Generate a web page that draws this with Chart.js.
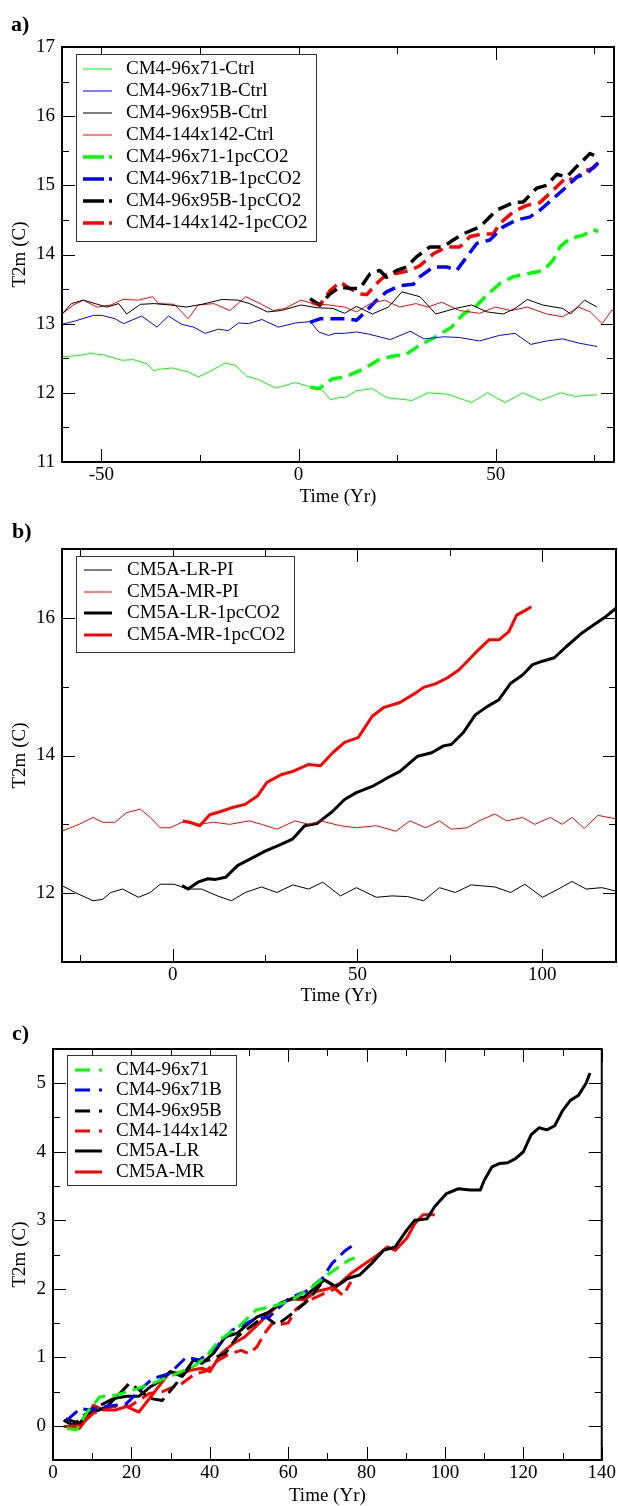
<!DOCTYPE html>
<html>
<head>
<meta charset="utf-8">
<script src="https://cdn.jsdelivr.net/npm/chart.js@4.4.1/dist/chart.umd.min.js"></script>
<style>
  body { margin: 0; background: #fff; }
  #wrap { position: relative; width: 618px; height: 1506px; }
  canvas { position: absolute; left: 0; }
</style>
</head>
<body>
<div id="wrap">
  <canvas id="chartA" width="618" height="507" style="top:0"></canvas>
  <canvas id="chartB" width="618" height="499" style="top:507px"></canvas>
  <canvas id="chartC" width="618" height="500" style="top:1006px"></canvas>
</div>
<script>
// ---- panel a: CM4 control runs (thin) and 1pcCO2 runs (dashed) ----
const aGreenCtrlT = [-60,-55.7,-52.8,-49.6,-44.8,-41.9,-38.5,-36.7,-35.5,-32.1,-27.9,-25.4,-22.8,-18.6,-16.1,-13.1,-10.1,-5.9,-4.3,-0.8,2.6,6,8.1,10.2,11.7,14.7,18.7,22.3,28.8,32.8,37.8,43.9,47.9,52.4,56.9,61.4,66.5,70,75.7];
const aGreenCtrlV = [12.52,12.54,12.57,12.55,12.47,12.48,12.42,12.32,12.34,12.36,12.30,12.23,12.30,12.43,12.40,12.24,12.19,12.07,12.09,12.15,12.09,12.04,11.90,11.93,11.93,12.03,12.06,11.93,11.89,12.00,11.98,11.86,12.00,11.86,12.00,11.89,12.00,11.95,11.97];
const aBlueCtrlT = [-60,-56.6,-52,-49.9,-46.5,-44.4,-39.8,-35.9,-33,-29.6,-26.6,-23.7,-20.3,-17.8,-15.2,-12.7,-9.3,-5.1,-0.8,3,5.1,7.6,9.3,11.7,14.7,17.7,23.3,28.3,31.8,36.8,40.8,45.9,50.9,54.9,58.9,62.9,67,71,75.7];
const aBlueCtrlV = [12.99,13.04,13.12,13.12,13.07,13.00,13.11,12.95,13.11,12.99,12.95,12.86,12.92,12.90,13.01,13.00,13.06,12.95,13.01,13.03,12.88,12.83,12.86,12.86,12.88,12.85,12.77,12.89,12.78,12.81,12.80,12.75,12.83,12.86,12.70,12.75,12.78,12.72,12.67];
const aBlackCtrlT = [-60,-57.6,-54.6,-51.6,-48.6,-45.6,-43.6,-40.1,-36.6,-32.5,-28.5,-24.5,-19.4,-15.4,-12.4,-7.9,-4.4,0.6,4.7,8.7,11.7,14.7,18.7,22.8,26.2,30.8,34.8,39.8,43.9,47.8,51.9,54.9,58,61.9,67,69,72.5,75.7];
const aBlackCtrlV = [13.14,13.29,13.34,13.29,13.24,13.29,13.14,13.28,13.29,13.27,13.24,13.28,13.35,13.34,13.29,13.17,13.19,13.27,13.23,13.22,13.15,13.25,13.14,13.24,13.46,13.39,13.14,13.22,13.27,13.17,13.14,13.22,13.35,13.27,13.22,13.14,13.34,13.24];
const aRedCtrlT = [-60,-57.1,-54.6,-51.1,-47.6,-44.6,-40.6,-37,-35.5,-31.5,-28,-25.5,-21.5,-17.4,-13.4,-9.4,-6.4,-3.4,0.6,3.7,7.7,11.7,14.7,18.2,21.8,25.7,29.8,32.8,36.3,40.8,45.9,49.9,53.9,58,62.9,67,71,74,77,79.5,80];
const aRedCtrlV = [13.14,13.27,13.34,13.24,13.27,13.35,13.34,13.39,13.29,13.28,13.07,13.27,13.29,13.19,13.39,13.28,13.19,13.22,13.34,13.29,13.27,13.24,13.17,13.29,13.34,13.24,13.29,13.24,13.31,13.19,13.15,13.24,13.19,13.24,13.14,13.10,13.24,13.17,13.00,13.20,13.17];
const aGreenCO2T = [3,5.1,8.5,11.7,16.7,20.7,24.8,26.8,30.8,34.8,38.8,41.8,44.8,47.7,51.1,54.5,57.9,62.1,64.6,66.3,68.8,72.2,74.8,76];
const aGreenCO2V = [12.08,12.06,12.20,12.23,12.35,12.49,12.54,12.54,12.69,12.81,12.95,13.14,13.24,13.41,13.58,13.68,13.72,13.77,13.92,14.11,14.23,14.28,14.36,14.33];
const aBlueCO2T = [2.9,5.4,8.8,12.2,14.7,17.3,19.8,22.3,25.7,29.1,30.8,34.2,37.6,40.1,42.7,45.2,48.5,51.9,55.3,58.6,61.2,64.6,68,70.5,73.1,76.2];
const aBlueCO2V = [13.02,13.07,13.07,13.07,13.05,13.19,13.34,13.46,13.55,13.57,13.68,13.82,13.82,13.77,13.97,14.16,14.21,14.40,14.50,14.54,14.64,14.81,14.98,15.12,15.17,15.34];
const aBlackCO2T = [2.9,5.4,8,10.5,13,15.6,18.1,20.6,22.3,24.9,27.4,30,33.3,36.7,39.2,41.8,46,50.2,54.5,57,60.4,62.9,65.5,68,70.5,73.9,75.6];
const aBlackCO2V = [13.36,13.27,13.43,13.53,13.51,13.51,13.72,13.77,13.67,13.77,13.82,13.97,14.11,14.11,14.21,14.30,14.40,14.64,14.75,14.76,14.96,15.00,15.16,15.12,15.27,15.46,15.42];
const aRedCO2T = [3.3,5.4,8,10.5,13,15.6,17.3,19.8,22.3,24.9,28.3,30.8,34.2,37.6,40.9,43.5,46,49.4,51.1,54.5,57.9,61.2,64.6,68,69.7,72.2,74.8,76];
const aRedCO2V = [13.31,13.27,13.48,13.60,13.51,13.43,13.42,13.58,13.71,13.73,13.77,13.84,14.01,14.11,14.11,14.26,14.29,14.30,14.45,14.62,14.71,14.75,14.93,15.12,15.07,15.20,15.25,15.32];

// ---- panel b: CM5A PI (thin) and 1pcCO2 (thick) ----
const bLRPIT = [-30,-26.5,-21.6,-19,-16.8,-13.6,-9.3,-6.1,-3.4,0.3,4.1,7.8,12.1,15.9,19.6,24,28.2,32.5,36.8,40.6,45.4,49.7,55.1,59.3,63.6,67.9,72.2,76.5,80.8,87.2,91.5,95.3,100.1,104.4,108.1,111.9,116.2,120];
const bLRPIV = [12.11,12.01,11.89,11.91,12.01,12.06,11.94,12.01,12.13,12.13,12.06,12.06,11.96,11.89,12.01,12.09,12.01,12.12,12.06,12.16,11.96,12.08,11.94,11.96,11.95,11.89,12.08,12.01,12.12,12.09,12.01,12.13,11.94,12.06,12.17,12.06,12.08,12.03];
const bMRPIT = [-30,-25.4,-21.6,-19,-15.7,-12.5,-8.8,-6.1,-3.4,-0.7,2.5,6.8,11.1,15.4,20.7,24,28.2,33.1,36.8,40,45.4,49.7,55.1,60.4,64.2,68.5,72.2,75.4,79.7,82.9,87.2,90.4,94.7,98,102.2,105.4,108.1,111.4,115.1,120];
const bMRPIV = [12.90,13.00,13.10,13.03,13.03,13.17,13.22,13.10,12.95,12.95,13.03,13.00,13.03,13.00,13.05,13.00,12.93,13.05,13.00,13.05,12.98,12.95,12.98,12.90,13.05,12.95,13.05,12.93,12.95,13.05,13.15,13.05,13.10,13.00,13.10,13.00,13.10,12.94,13.13,13.08];
const bLRCO2T = [2.5,4.1,6.8,9.5,11.6,14.3,17.5,21.8,25,29.3,32.5,35.7,39,43.3,46.5,49.7,54,58.3,61.5,66.3,70.1,73.3,75.4,78.6,81.9,85.1,88.3,91.5,94.7,97.4,100.1,103.3,106.5,110.8,114,117.3,120];
const bLRCO2V = [12.11,12.06,12.16,12.21,12.20,12.23,12.40,12.52,12.61,12.71,12.79,12.98,13.01,13.19,13.36,13.46,13.55,13.68,13.77,13.99,14.04,14.14,14.16,14.33,14.59,14.71,14.81,15.05,15.17,15.32,15.37,15.42,15.58,15.78,15.90,16.02,16.14];
const bMRCO2T = [2.7,4.6,7.3,10,13.2,15.9,19.6,22.9,25.5,29.3,32.5,36.8,40,43.3,46.5,50.2,54,57.2,61.5,65.8,67.9,71.1,74.4,77.6,81.9,85.6,88.3,91,93.1,95.8,97.1];
const bMRCO2V = [13.05,13.03,12.98,13.14,13.19,13.24,13.29,13.41,13.61,13.72,13.77,13.87,13.85,14.04,14.19,14.26,14.57,14.70,14.77,14.91,14.99,15.04,15.13,15.25,15.49,15.68,15.68,15.80,16.04,16.12,16.16];

// ---- panel c: warming relative to start ----
const cGreenT = [3.5,6,8.5,11.9,16.2,20.4,25.5,30.6,35.7,39,42.4,47.5,51.8,56,61.1,66.2,70.4,75.5,77];
const cGreenV = [-0.04,-0.06,0.18,0.42,0.45,0.52,0.62,0.74,0.86,1.0,1.25,1.45,1.69,1.74,1.84,2.03,2.22,2.42,2.45];
const cBlueT = [3.5,6.9,9.4,13.6,18.7,22.1,25.5,29.7,34,37.4,41.6,45.8,50.9,55.2,60.2,64.5,68.7,71.2,74.6,77.2];
const cBlueV = [0.08,0.25,0.23,0.28,0.32,0.52,0.69,0.76,1.0,0.96,1.15,1.40,1.54,1.59,1.86,1.96,2.15,2.37,2.56,2.66];
const cBlackDT = [3.2,6,9.4,12.8,16.2,19.5,22.1,24.6,27.9,31.5,35.7,39.9,44,47,50.5,54,57.1,61.1,65.2,69.2,71.2];
const cBlackDV = [0.10,0.05,0.23,0.32,0.42,0.62,0.52,0.40,0.37,0.62,0.91,0.96,1.06,1.30,1.45,1.6,1.47,1.64,1.84,2.13,2.06];
const cRedDT = [3.5,6.9,10.2,15.2,19.5,24.6,28,30,33,36,39,42,45,48,50,52,54,56,58,60,62,64,66,68,70,72,74,76];
const cRedDV = [-0.01,0,0.18,0.28,0.28,0.47,0.5,0.55,0.62,0.75,0.8,0.95,1.05,1.1,1.05,1.15,1.35,1.5,1.48,1.5,1.7,1.78,1.85,1.9,1.95,2.0,1.9,2.1];
const cLRT = [2.7,4.7,6.7,8.8,11.8,13.8,15.8,18.8,21.9,24.9,26.9,29.9,32.9,35.9,38,41,44,47,49,52.1,55.1,58.1,61.1,64.1,67.2,69.2,72.2,75.2,78.2,81.3,84.3,87.3,90.3,92.3,95.4,97.4,100.4,103.4,106.5,109,110,112,114,116,118,120,122,124,126,128,130,132,134,136,137];
const cLRV = [0.08,0.02,0.03,0.18,0.23,0.28,0.40,0.43,0.43,0.57,0.64,0.79,0.72,0.96,0.91,1.06,1.30,1.35,1.45,1.59,1.66,1.79,1.86,1.88,2.03,2.13,2.03,2.15,2.20,2.37,2.56,2.61,2.86,3.0,3.02,3.20,3.39,3.46,3.44,3.44,3.58,3.78,3.83,3.84,3.9,4.0,4.25,4.35,4.32,4.38,4.6,4.75,4.82,5.0,5.15];
const cMRT = [2.7,5.7,6.7,8.3,10.3,12.8,15.8,18.8,21.9,24.9,27.9,29.9,32.9,35,38,40,43,46,49,52.1,55.1,58.1,61.1,64.1,67.2,70.2,73.2,76.2,79.2,82.3,85.3,87.3,90.3,92.3,94.4,97.4];
const cMRV = [-0.01,-0.01,-0.04,0.08,0.30,0.23,0.23,0.28,0.20,0.42,0.64,0.79,0.76,0.81,0.84,0.79,1.06,1.20,1.30,1.47,1.64,1.79,1.85,1.84,1.96,2.0,2.08,2.23,2.35,2.47,2.61,2.56,2.74,2.95,3.08,3.08];

const FONT = '"Liberation Serif", "Times New Roman", serif';
const DASH = [14, 7];

function line(label, t, v, color, width, dash) {
  return {
    label: label,
    data: t.map((x, i) => ({ x: x, y: v[i] })),
    borderColor: color,
    borderWidth: width,
    borderDash: dash || [],
    borderJoinStyle: 'round',
    pointRadius: 0,
    tension: 0,
    fill: false
  };
}

function eachTick(scale, major, minor, fn) {
  const start = Math.ceil(scale.min / minor - 1e-9) * minor;
  for (let v = start; v <= scale.max + 1e-9; v += minor) {
    const r = v / major;
    fn(v, Math.abs(r - Math.round(r)) < 1e-6);
  }
}

// labels only at whole multiples of the step, not at the axis ends
function multiplesOf(step) {
  return s => {
    const out = [];
    for (let v = Math.ceil(s.min / step - 1e-9) * step; v <= s.max + 1e-9; v += step) {
      out.push({ value: Math.round(v * 1e6) / 1e6 });
    }
    s.ticks = out;
  };
}

// box frame with inward ticks, in-plot legend box and panel letter
const panelFrame = {
  id: 'panelFrame',
  afterDatasetsDraw(chart, args, o) {
    const ctx = chart.ctx, a = chart.chartArea;
    const xs = chart.scales.x, ys = chart.scales.y;
    ctx.save();
    ctx.strokeStyle = '#000';
    ctx.lineWidth = 1;
    ctx.setLineDash([]);
    ctx.beginPath();
    eachTick(xs, o.xMajor, o.xMinor, (v, major) => {
      const px = Math.round(xs.getPixelForValue(v)) + 0.5;
      const len = major ? 13 : 7;
      ctx.moveTo(px, a.bottom); ctx.lineTo(px, a.bottom - len);
      ctx.moveTo(px, a.top); ctx.lineTo(px, a.top + len);
    });
    eachTick(ys, o.yMajor, o.yMinor, (v, major) => {
      const py = Math.round(ys.getPixelForValue(v)) + 0.5;
      const len = major ? 13 : 7;
      ctx.moveTo(a.left, py); ctx.lineTo(a.left + len, py);
      ctx.moveTo(a.right, py); ctx.lineTo(a.right - len, py);
    });
    ctx.stroke();
    ctx.lineWidth = 2;
    ctx.strokeRect(a.left, a.top, a.right - a.left, a.bottom - a.top);

    const L = o.legend;
    ctx.fillStyle = '#fff';
    ctx.fillRect(L.x1, L.y1, L.x2 - L.x1, L.y2 - L.y1);
    ctx.strokeStyle = '#333';
    ctx.lineWidth = 1;
    ctx.strokeRect(L.x1 + 0.5, L.y1 + 0.5, L.x2 - L.x1, L.y2 - L.y1);
    ctx.font = '19px ' + FONT;
    ctx.textBaseline = 'middle';
    chart.data.datasets.forEach((ds, i) => {
      const y = Math.round(L.row0 + i * L.gap);
      ctx.strokeStyle = ds.borderColor;
      ctx.lineWidth = ds.borderWidth;
      ctx.beginPath();
      if (ds.borderDash.length) {
        ctx.moveTo(L.s1, y); ctx.lineTo(L.dashEnd, y);
        ctx.moveTo(L.s2 - 3, y); ctx.lineTo(L.s2, y);
      } else {
        ctx.moveTo(L.s1, y); ctx.lineTo(L.s2, y);
      }
      ctx.stroke();
      ctx.fillStyle = '#000';
      ctx.fillText(ds.label, L.tx, y);
    });

    ctx.font = 'bold 22px ' + FONT;
    ctx.textBaseline = 'alphabetic';
    ctx.fillStyle = '#000';
    ctx.fillText(o.letter, o.lx, o.ly);
    ctx.restore();
  }
};

function options(g, xr, yr, frame) {
  const tickFont = { family: FONT, size: 19 };
  const titleFont = { family: FONT, size: 19, lineHeight: 1 };
  return {
    responsive: false,
    animation: false,
    layout: { padding: { left: 0, top: g.top, right: g.w - g.right, bottom: 0 } },
    plugins: { legend: { display: false }, tooltip: { enabled: false }, panelFrame: frame },
    scales: {
      x: {
        type: 'linear', min: xr[0], max: xr[1],
        afterBuildTicks: multiplesOf(xr[2]),
        afterFit: s => { s.height = g.h - g.bottom; },
        grid: { display: false, drawTicks: false },
        border: { display: false },
        ticks: { padding: 2, color: '#000', font: tickFont, maxRotation: 0, autoSkip: false },
        title: { display: true, text: 'Time (Yr)', color: '#000', font: titleFont, padding: 0 }
      },
      y: {
        type: 'linear', min: yr[0], max: yr[1],
        afterBuildTicks: multiplesOf(yr[2]),
        afterFit: s => { s.width = g.left; },
        grid: { display: false, drawTicks: false },
        border: { display: false },
        ticks: { padding: 7, color: '#000', font: tickFont, autoSkip: false },
        title: { display: true, text: 'T2m (C)', color: '#000', font: titleFont, padding: { top: 11, bottom: 0 } }
      }
    }
  };
}

new Chart(document.getElementById('chartA'), {
  type: 'line',
  data: {
    datasets: [
      line('CM4-96x71-Ctrl', aGreenCtrlT, aGreenCtrlV, '#00ff00', 1),
      line('CM4-96x71B-Ctrl', aBlueCtrlT, aBlueCtrlV, '#0000ff', 1),
      line('CM4-96x95B-Ctrl', aBlackCtrlT, aBlackCtrlV, '#000000', 1),
      line('CM4-144x142-Ctrl', aRedCtrlT, aRedCtrlV, '#ff0000', 1),
      line('CM4-96x71-1pcCO2', aGreenCO2T, aGreenCO2V, '#00ff00', 3.5, DASH),
      line('CM4-96x71B-1pcCO2', aBlueCO2T, aBlueCO2V, '#0000ff', 3.5, DASH),
      line('CM4-96x95B-1pcCO2', aBlackCO2T, aBlackCO2V, '#000000', 3.5, DASH),
      line('CM4-144x142-1pcCO2', aRedCO2T, aRedCO2V, '#ff0000', 3.5, DASH)
    ]
  },
  options: options({ w: 618, h: 507, left: 62, right: 614, top: 47, bottom: 462 }, [-60, 80, 50], [11, 17, 1], {
    xMajor: 50, xMinor: 25, yMajor: 1, yMinor: 0.5, letter: 'a)', lx: 11, ly: 31,
    legend: { x1: 76, y1: 54, x2: 316, y2: 241, row0: 69, gap: 22, s1: 83, s2: 112, dashEnd: 104, tx: 126 }
  }),
  plugins: [panelFrame]
});

new Chart(document.getElementById('chartB'), {
  type: 'line',
  data: {
    datasets: [
      line('CM5A-LR-PI', bLRPIT, bLRPIV, '#000000', 1),
      line('CM5A-MR-PI', bMRPIT, bMRPIV, '#ff0000', 1),
      line('CM5A-LR-1pcCO2', bLRCO2T, bLRCO2V, '#000000', 3),
      line('CM5A-MR-1pcCO2', bMRCO2T, bMRCO2V, '#ff0000', 3)
    ]
  },
  options: options({ w: 618, h: 499, left: 62, right: 616, top: 42, bottom: 455 }, [-30, 120, 50], [11, 17, 2], {
    xMajor: 50, xMinor: 25, yMajor: 2, yMinor: 1, letter: 'b)', lx: 12, ly: 31,
    legend: { x1: 76, y1: 49, x2: 294, y2: 145, row0: 63, gap: 21.7, s1: 84, s2: 112, dashEnd: 104, tx: 127 }
  }),
  plugins: [panelFrame]
});

new Chart(document.getElementById('chartC'), {
  type: 'line',
  data: {
    datasets: [
      line('CM4-96x71', cGreenT, cGreenV, '#00ff00', 3, DASH),
      line('CM4-96x71B', cBlueT, cBlueV, '#0000ff', 3, DASH),
      line('CM4-96x95B', cBlackDT, cBlackDV, '#000000', 3, DASH),
      line('CM4-144x142', cRedDT, cRedDV, '#ff0000', 3, DASH),
      line('CM5A-LR', cLRT, cLRV, '#000000', 3),
      line('CM5A-MR', cMRT, cMRV, '#ff0000', 3)
    ]
  },
  options: options({ w: 618, h: 500, left: 53, right: 603, top: 43, bottom: 454 }, [0, 140, 20], [-0.5, 5.5, 1], {
    xMajor: 20, xMinor: 10, yMajor: 1, yMinor: 0.5, letter: 'c)', lx: 12, ly: 34,
    legend: { x1: 67, y1: 49, x2: 236, y2: 179, row0: 64, gap: 20.3, s1: 75, s2: 102, dashEnd: 90, tx: 116 }
  }),
  plugins: [panelFrame]
});
</script>
</body>
</html>
